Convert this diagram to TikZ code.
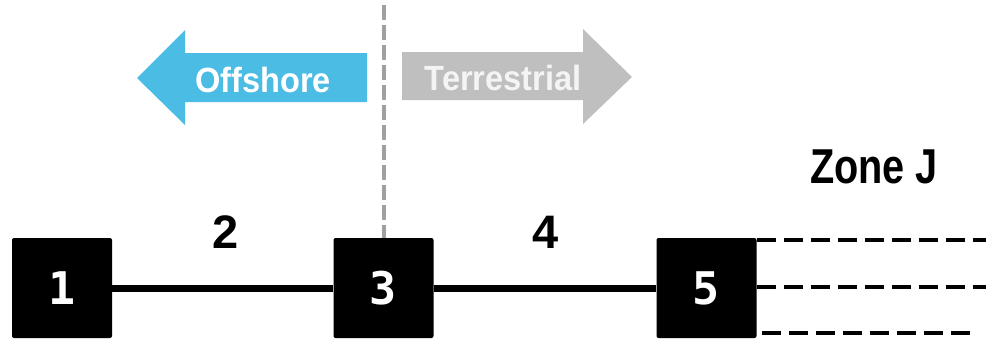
\documentclass[tikz,border=0pt]{standalone}
\usepackage{fontspec}
\setmainfont{Liberation Sans}
\newfontfamily\arrowfont{Liberation Sans}[FakeStretch=0.93]
\newfontfamily\zonefont{Liberation Sans}[FakeStretch=0.81]
\newfontfamily\digitfont{DejaVu Sans Mono}
\definecolor{offblue}{HTML}{4BBCE4}
\definecolor{terrgray}{HTML}{BFBFBF}
\definecolor{divgray}{HTML}{A0A0A0}
\definecolor{terrtext}{HTML}{F4F4F4}
\tikzset{
  busbox/.style={fill=black, draw=none, rounded corners=2pt, minimum width=100pt, minimum height=100pt, inner sep=0pt, text=white, font=\digitfont\bfseries\fontsize{45}{45}\selectfont},
  link/.style={line width=7pt, black},
  tail/.style={line width=3.5pt, black, dash pattern=on 19pt off 8pt},
  divider/.style={line width=4pt, divgray, dash pattern=on 15pt off 5pt},
  arrowlbl/.style={font=\arrowfont\bfseries\fontsize{35}{35}\selectfont, anchor=base, inner sep=0pt},
  numlbl/.style={font=\bfseries\fontsize{47}{47}\selectfont, anchor=base, inner sep=0pt},
}
\begin{document}
\begin{tikzpicture}[x=1pt, y=-1pt]
\useasboundingbox (0,0) rectangle (986,340);
% arrows
\fill[offblue] (367,53) -- (185,53) -- (185,30) -- (137,78) -- (185,125) -- (185,102) -- (367,102) -- cycle;
\fill[terrgray] (402,52) -- (583,52) -- (583,29) -- (632,77) -- (583,124) -- (583,100) -- (402,100) -- cycle;
\node[arrowlbl, text=white] (off) at (263,92) {Offshore};
\node[arrowlbl, text=terrtext] (ter) at (503,90) {Terrestrial};
% boxes
\node[busbox] (b1) at (62,288) {\raisebox{-3pt}{1}};
\node[busbox] (b3) at (383.5,288) {\raisebox{-3pt}{3}};
\node[busbox] (b5) at (706.5,288) {\raisebox{-3pt}{5}};
% divider
\coordinate (dtop) at (383.5,5);
\draw[divider] (dtop) -- (b3.north);
% links
\draw[link] (b1.east) -- (b3.west);
\draw[link] (b3.east) -- (b5.west);
% labels
\node[numlbl] (l2) at (225.5,248) {2};
\node[numlbl] (l4) at (546,248) {4};
\node[font=\zonefont\bfseries\fontsize{49}{49}\selectfont, anchor=base, inner sep=0pt] (zone) at (874,183) {Zone J};
% tails
\coordinate (t1s) at (757,240);
\coordinate (t1e) at (986,240);
\coordinate (t2e) at (986,287);
\coordinate (t3s) at (762,333);
\coordinate (t3e) at (972,333);
\draw[tail] (t1s) -- (t1e);
\draw[tail] (b5.east |- t2e) -- (t2e);
\draw[tail] (t3s) -- (t3e);
\end{tikzpicture}
\end{document}
